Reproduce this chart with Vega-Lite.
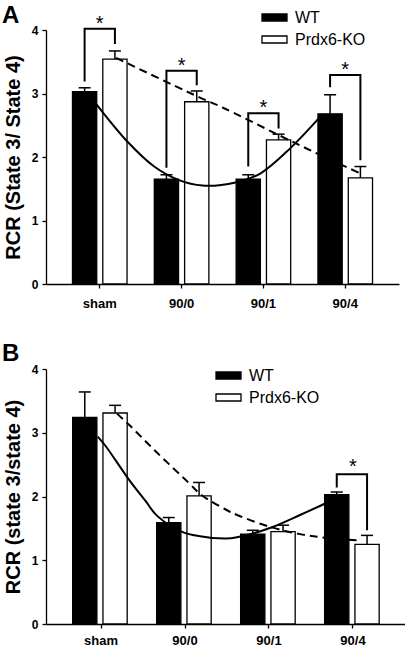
{
  "$schema": "https://vega.github.io/schema/vega-lite/v6.json",
  "padding": {"left": 2, "top": 4, "right": 0, "bottom": 0},
  "spacing": 32,
  "resolve": {"scale": {"fill": "independent"}, "legend": {"fill": "independent"}},
  "config": {
    "view": {"stroke": null},
    "font": "Liberation Sans",
    "axis": {
      "domainColor": "black", "tickColor": "black", "domainWidth": 1.3, "tickWidth": 1.3,
      "tickSize": 4, "grid": false, "labelColor": "black", "titleColor": "black",
      "labelFont": "Liberation Sans", "labelFontWeight": "bold", "titleFont": "Liberation Sans", "titleFontWeight": "bold"
    },
    "legend": {
      "labelFont": "Liberation Sans", "labelFontSize": 16, "labelColor": "black",
      "symbolType": "M-1,-0.28H1V0.28H-1Z", "symbolSize": 625, "symbolStrokeColor": "black",
      "symbolStrokeWidth": 1.3, "padding": 0, "rowPadding": -3, "labelOffset": 7, "title": null
    }
  },
  "datasets": {
    "barsA": [
      {"cond": "sham", "group": "WT", "mean": 3.03, "upper": 3.09},
      {"cond": "sham", "group": "Prdx6-KO", "mean": 3.54, "upper": 3.67},
      {"cond": "90/0", "group": "WT", "mean": 1.65, "upper": 1.72},
      {"cond": "90/0", "group": "Prdx6-KO", "mean": 2.87, "upper": 3.04},
      {"cond": "90/1", "group": "WT", "mean": 1.65, "upper": 1.72},
      {"cond": "90/1", "group": "Prdx6-KO", "mean": 2.27, "upper": 2.36},
      {"cond": "90/4", "group": "WT", "mean": 2.68, "upper": 2.98},
      {"cond": "90/4", "group": "Prdx6-KO", "mean": 1.67, "upper": 1.85}
    ],
    "bracketsA": [
      {"id": "a1", "cond": "sham", "group": "WT", "y": 3.19, "o": 1},
      {"id": "a1", "cond": "sham", "group": "WT", "y": 4.02, "o": 2},
      {"id": "a1", "cond": "sham", "group": "Prdx6-KO", "y": 4.02, "o": 3},
      {"id": "a1", "cond": "sham", "group": "Prdx6-KO", "y": 3.78, "o": 4},
      {"id": "a2", "cond": "90/0", "group": "WT", "y": 1.83, "o": 1},
      {"id": "a2", "cond": "90/0", "group": "WT", "y": 3.36, "o": 2},
      {"id": "a2", "cond": "90/0", "group": "Prdx6-KO", "y": 3.36, "o": 3},
      {"id": "a2", "cond": "90/0", "group": "Prdx6-KO", "y": 3.13, "o": 4},
      {"id": "a3", "cond": "90/1", "group": "WT", "y": 1.85, "o": 1},
      {"id": "a3", "cond": "90/1", "group": "WT", "y": 2.69, "o": 2},
      {"id": "a3", "cond": "90/1", "group": "Prdx6-KO", "y": 2.69, "o": 3},
      {"id": "a3", "cond": "90/1", "group": "Prdx6-KO", "y": 2.45, "o": 4},
      {"id": "a4", "cond": "90/4", "group": "WT", "y": 3.1, "o": 1},
      {"id": "a4", "cond": "90/4", "group": "WT", "y": 3.29, "o": 2},
      {"id": "a4", "cond": "90/4", "group": "Prdx6-KO", "y": 3.29, "o": 3},
      {"id": "a4", "cond": "90/4", "group": "Prdx6-KO", "y": 1.95, "o": 4}
    ],
    "starsA": [
      {"cond": "sham", "y": 4.19, "label": "*"},
      {"cond": "90/0", "y": 3.53, "label": "*"},
      {"cond": "90/1", "y": 2.86, "label": "*"},
      {"cond": "90/4", "y": 3.47, "label": "*"}
    ],
    "curvesA": [
      {"group": "WT", "t": -0.04, "y": 2.83},
      {"group": "WT", "t": 0.34, "y": 2.24},
      {"group": "WT", "t": 0.665, "y": 1.85},
      {"group": "WT", "t": 0.96, "y": 1.64},
      {"group": "WT", "t": 1.255, "y": 1.55},
      {"group": "WT", "t": 1.66, "y": 1.6},
      {"group": "WT", "t": 1.96, "y": 1.74},
      {"group": "WT", "t": 2.33, "y": 2.14},
      {"group": "WT", "t": 2.72, "y": 2.67},
      {"group": "Prdx6-KO", "t": 0.2, "y": 3.56},
      {"group": "Prdx6-KO", "t": 1.2, "y": 2.95},
      {"group": "Prdx6-KO", "t": 1.5, "y": 2.78},
      {"group": "Prdx6-KO", "t": 2.18, "y": 2.35},
      {"group": "Prdx6-KO", "t": 2.68, "y": 2.04},
      {"group": "Prdx6-KO", "t": 3.17, "y": 1.75}
    ],
    "barsB": [
      {"cond": "sham", "group": "WT", "mean": 3.24, "upper": 3.64},
      {"cond": "sham", "group": "Prdx6-KO", "mean": 3.31, "upper": 3.43},
      {"cond": "90/0", "group": "WT", "mean": 1.59, "upper": 1.67},
      {"cond": "90/0", "group": "Prdx6-KO", "mean": 2.01, "upper": 2.22},
      {"cond": "90/1", "group": "WT", "mean": 1.41, "upper": 1.47},
      {"cond": "90/1", "group": "Prdx6-KO", "mean": 1.45, "upper": 1.55},
      {"cond": "90/4", "group": "WT", "mean": 2.03, "upper": 2.07},
      {"cond": "90/4", "group": "Prdx6-KO", "mean": 1.25, "upper": 1.39}
    ],
    "bracketsB": [
      {"id": "b4", "cond": "90/4", "group": "WT", "y": 2.14, "o": 1},
      {"id": "b4", "cond": "90/4", "group": "WT", "y": 2.35, "o": 2},
      {"id": "b4", "cond": "90/4", "group": "Prdx6-KO", "y": 2.35, "o": 3},
      {"id": "b4", "cond": "90/4", "group": "Prdx6-KO", "y": 1.47, "o": 4}
    ],
    "starsB": [
      {"cond": "90/4", "y": 2.55, "label": "*"}
    ],
    "curvesB": [
      {"group": "WT", "t": -0.04, "y": 2.94},
      {"group": "WT", "t": 0.05, "y": 2.8},
      {"group": "WT", "t": 0.33, "y": 2.27},
      {"group": "WT", "t": 0.53, "y": 1.93},
      {"group": "WT", "t": 0.665, "y": 1.7},
      {"group": "WT", "t": 0.96, "y": 1.45},
      {"group": "WT", "t": 1.16, "y": 1.38},
      {"group": "WT", "t": 1.48, "y": 1.34},
      {"group": "WT", "t": 1.62, "y": 1.36},
      {"group": "WT", "t": 2.02, "y": 1.51},
      {"group": "WT", "t": 2.37, "y": 1.71},
      {"group": "WT", "t": 2.67, "y": 1.89},
      {"group": "Prdx6-KO", "t": 0.19, "y": 3.3},
      {"group": "Prdx6-KO", "t": 0.33, "y": 3.13},
      {"group": "Prdx6-KO", "t": 0.65, "y": 2.71},
      {"group": "Prdx6-KO", "t": 1.04, "y": 2.22},
      {"group": "Prdx6-KO", "t": 1.2, "y": 2.02},
      {"group": "Prdx6-KO", "t": 1.48, "y": 1.8},
      {"group": "Prdx6-KO", "t": 1.62, "y": 1.71},
      {"group": "Prdx6-KO", "t": 2.02, "y": 1.52},
      {"group": "Prdx6-KO", "t": 2.37, "y": 1.41},
      {"group": "Prdx6-KO", "t": 2.69, "y": 1.35},
      {"group": "Prdx6-KO", "t": 3.09, "y": 1.31}
    ]
  },
  "vconcat": [
    {
      "width": 353, "height": 254,
      "title": {"text": "A", "anchor": "start", "frame": "group", "dx": -44, "dy": 30, "offset": 6, "fontSize": 24, "font": "Liberation Sans", "fontWeight": "bold", "color": "black"},
      "resolve": {"scale": {"x": "independent"}},
      "layer": [
        {
          "data": {"name": "barsA"},
          "encoding": {
            "x": {"field": "cond", "type": "nominal", "sort": ["sham", "90/0", "90/1", "90/4"],
              "scale": {"domain": ["sham", "90/0", "90/1", "90/4"], "paddingInner": 0, "paddingOuter": 0.157},
              "axis": {"title": null, "labelAngle": 0, "labelFontSize": 13, "labelPadding": 9, "bandPosition": 0.5}},
            "y": {"field": "mean", "type": "quantitative", "scale": {"domain": [0, 4], "nice": false},
              "axis": {"values": [0, 1, 2, 3, 4], "format": "d", "title": "RCR (State 3/ State 4)", "titleFontSize": 20, "labelFontSize": 12, "labelPadding": 4, "titlePadding": 8}}
          },
          "layer": [
            {
              "mark": {"type": "bar", "stroke": "black", "strokeWidth": 1.3},
              "encoding": {
                "xOffset": {"field": "group", "type": "nominal", "scale": {"domain": ["WT", "Prdx6-KO"], "paddingInner": 0.2, "paddingOuter": 0.45}},
                "fill": {"field": "group", "type": "nominal", "scale": {"domain": ["WT", "Prdx6-KO"], "range": ["black", "white"]},
                  "legend": {"orient": "none", "legendX": 215, "legendY": -26}}
              }
            },
            {
              "mark": {"type": "rule", "color": "black", "strokeWidth": 1.5},
              "encoding": {
                "xOffset": {"field": "group", "type": "nominal", "scale": {"domain": ["WT", "Prdx6-KO"], "paddingInner": 0.2, "paddingOuter": 0.45}},
                "y2": {"field": "upper"}
              }
            },
            {
              "mark": {"type": "point", "shape": "M-1,0L1,0", "size": 144, "filled": false, "stroke": "black", "strokeWidth": 1.5, "opacity": 1},
              "encoding": {
                "xOffset": {"field": "group", "type": "nominal", "scale": {"domain": ["WT", "Prdx6-KO"], "paddingInner": 0.2, "paddingOuter": 0.45}},
                "y": {"field": "upper", "type": "quantitative"}
              }
            },
            {
              "data": {"name": "bracketsA"},
              "mark": {"type": "line", "color": "black", "strokeWidth": 2, "strokeJoin": "miter"},
              "encoding": {
                "xOffset": {"field": "group", "type": "nominal", "scale": {"domain": ["WT", "Prdx6-KO"], "paddingInner": 0.2, "paddingOuter": 0.45}},
                "y": {"field": "y", "type": "quantitative"},
                "order": {"field": "o", "type": "quantitative"},
                "detail": {"field": "id"}
              }
            },
            {
              "data": {"name": "starsA"},
              "mark": {"type": "text", "font": "Liberation Sans", "fontSize": 20, "color": "black", "baseline": "middle", "dy": 6},
              "encoding": {
                "y": {"field": "y", "type": "quantitative"},
                "text": {"field": "label"}
              }
            }
          ]
        },
        {
          "data": {"name": "curvesA"},
          "transform": [{"filter": "datum.group == 'WT'"}],
          "mark": {"type": "line", "color": "black", "strokeWidth": 2, "interpolate": "catmull-rom"},
          "encoding": {
            "x": {"field": "t", "type": "quantitative", "scale": {"domain": [-0.657, 3.657], "nice": false, "zero": false}, "axis": null},
            "y": {"field": "y", "type": "quantitative", "scale": {"domain": [0, 4], "nice": false}}
          }
        },
        {
          "data": {"name": "curvesA"},
          "transform": [{"filter": "datum.group == 'Prdx6-KO'"}],
          "mark": {"type": "line", "color": "black", "strokeWidth": 2, "strokeDash": [8, 5], "interpolate": "catmull-rom"},
          "encoding": {
            "x": {"field": "t", "type": "quantitative", "scale": {"domain": [-0.657, 3.657], "nice": false, "zero": false}, "axis": null},
            "y": {"field": "y", "type": "quantitative", "scale": {"domain": [0, 4], "nice": false}}
          }
        }
      ]
    },
    {
      "width": 362, "height": 255,
      "title": {"text": "B", "anchor": "start", "frame": "group", "dx": -44, "dy": 10, "offset": 6, "fontSize": 24, "font": "Liberation Sans", "fontWeight": "bold", "color": "black"},
      "resolve": {"scale": {"x": "independent"}},
      "layer": [
        {
          "data": {"name": "barsB"},
          "encoding": {
            "x": {"field": "cond", "type": "nominal", "sort": ["sham", "90/0", "90/1", "90/4"],
              "scale": {"domain": ["sham", "90/0", "90/1", "90/4"], "paddingInner": 0, "paddingOuter": 0.155},
              "axis": {"title": null, "labelAngle": 0, "labelFontSize": 13, "labelPadding": 6, "bandPosition": 0.5}},
            "y": {"field": "mean", "type": "quantitative", "scale": {"domain": [0, 4], "nice": false},
              "axis": {"values": [0, 1, 2, 3, 4], "format": "d", "title": "RCR (state 3/state 4)", "titleFontSize": 20, "labelFontSize": 12, "labelPadding": 4, "titlePadding": 8}}
          },
          "layer": [
            {
              "mark": {"type": "bar", "stroke": "black", "strokeWidth": 1.3},
              "encoding": {
                "xOffset": {"field": "group", "type": "nominal", "scale": {"domain": ["WT", "Prdx6-KO"], "paddingInner": 0.22, "paddingOuter": 0.42}},
                "fill": {"field": "group", "type": "nominal", "scale": {"domain": ["WT", "Prdx6-KO"], "range": ["black", "white"]},
                  "legend": {"orient": "none", "legendX": 169, "legendY": -7}}
              }
            },
            {
              "mark": {"type": "rule", "color": "black", "strokeWidth": 1.5},
              "encoding": {
                "xOffset": {"field": "group", "type": "nominal", "scale": {"domain": ["WT", "Prdx6-KO"], "paddingInner": 0.22, "paddingOuter": 0.42}},
                "y2": {"field": "upper"}
              }
            },
            {
              "mark": {"type": "point", "shape": "M-1,0L1,0", "size": 144, "filled": false, "stroke": "black", "strokeWidth": 1.5, "opacity": 1},
              "encoding": {
                "xOffset": {"field": "group", "type": "nominal", "scale": {"domain": ["WT", "Prdx6-KO"], "paddingInner": 0.22, "paddingOuter": 0.42}},
                "y": {"field": "upper", "type": "quantitative"}
              }
            },
            {
              "data": {"name": "bracketsB"},
              "mark": {"type": "line", "color": "black", "strokeWidth": 2, "strokeJoin": "miter"},
              "encoding": {
                "xOffset": {"field": "group", "type": "nominal", "scale": {"domain": ["WT", "Prdx6-KO"], "paddingInner": 0.22, "paddingOuter": 0.42}},
                "y": {"field": "y", "type": "quantitative"},
                "order": {"field": "o", "type": "quantitative"},
                "detail": {"field": "id"}
              }
            },
            {
              "data": {"name": "starsB"},
              "mark": {"type": "text", "font": "Liberation Sans", "fontSize": 20, "color": "black", "baseline": "middle", "dy": 6},
              "encoding": {
                "y": {"field": "y", "type": "quantitative"},
                "text": {"field": "label"}
              }
            }
          ]
        },
        {
          "data": {"name": "curvesB"},
          "transform": [{"filter": "datum.group == 'WT'"}],
          "mark": {"type": "line", "color": "black", "strokeWidth": 2, "interpolate": "catmull-rom"},
          "encoding": {
            "x": {"field": "t", "type": "quantitative", "scale": {"domain": [-0.655, 3.655], "nice": false, "zero": false}, "axis": null},
            "y": {"field": "y", "type": "quantitative", "scale": {"domain": [0, 4], "nice": false}}
          }
        },
        {
          "data": {"name": "curvesB"},
          "transform": [{"filter": "datum.group == 'Prdx6-KO'"}],
          "mark": {"type": "line", "color": "black", "strokeWidth": 2, "strokeDash": [8, 5], "interpolate": "catmull-rom"},
          "encoding": {
            "x": {"field": "t", "type": "quantitative", "scale": {"domain": [-0.655, 3.655], "nice": false, "zero": false}, "axis": null},
            "y": {"field": "y", "type": "quantitative", "scale": {"domain": [0, 4], "nice": false}}
          }
        }
      ]
    }
  ]
}
